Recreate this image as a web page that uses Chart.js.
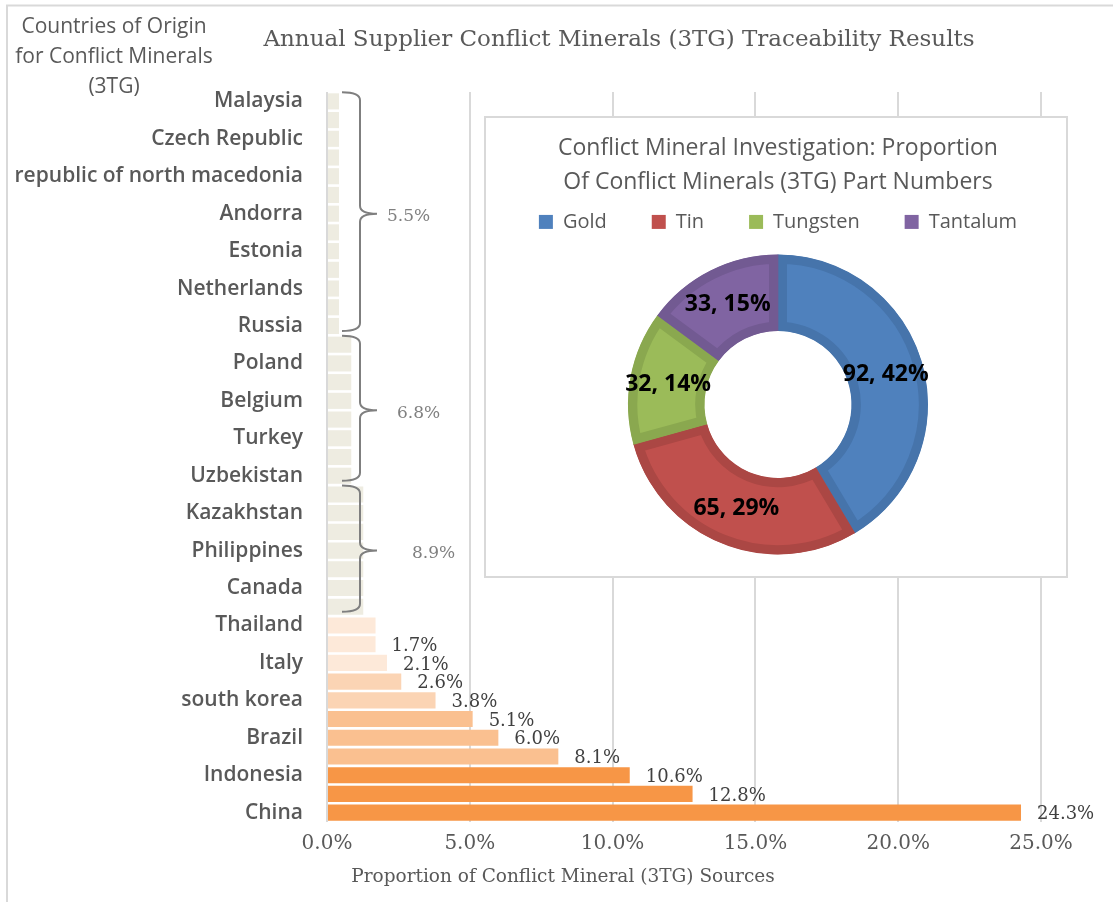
<!DOCTYPE html>
<html>
<head>
<meta charset="utf-8">
<script src="https://cdn.jsdelivr.net/npm/chart.js@4.4.1/dist/chart.umd.min.js"></script>
<style>
  html, body { margin: 0; padding: 0; background: #ffffff; }
  #wrap { position: relative; width: 1113px; height: 902px; overflow: hidden; }
  #bars { position: absolute; left: 0; top: 0; }
  #inset {
    position: absolute; left: 484px; top: 116px; width: 584px; height: 462px;
    box-sizing: border-box; border: 2px solid #D9D9D9; background: #ffffff;
  }
  #donut { display: block; }
</style>
</head>
<body>
<div id="wrap">
  <canvas id="bars" width="1113" height="902"></canvas>
  <div id="inset"><canvas id="donut" width="580" height="458"></canvas></div>
</div>
<script>
// Country rows, top to bottom (every other row carries a name on the axis)
const countries = [
  'Malaysia', '', 'Czech Republic', '', 'republic of north macedonia', '',
  'Andorra', '', 'Estonia', '', 'Netherlands', '', 'Russia', '',
  'Poland', '', 'Belgium', '', 'Turkey', '', 'Uzbekistan', '',
  'Kazakhstan', '', 'Philippines', '', 'Canada', '',
  'Thailand', '', 'Italy', '', 'south korea', '', 'Brazil', '',
  'Indonesia', '', 'China'
];

// Share of 3TG sources per country row, in percent
const sourceShare = [
  0.42, 0.42, 0.42, 0.42, 0.42, 0.42, 0.42, 0.42, 0.42, 0.42, 0.42, 0.42, 0.42,
  0.85, 0.85, 0.85, 0.85, 0.85, 0.85, 0.85, 0.85,
  1.27, 1.27, 1.27, 1.27, 1.27, 1.27, 1.27,
  1.7, 1.7, 2.1, 2.6, 3.8, 5.1, 6.0, 8.1, 10.6, 12.8, 24.3
];

// Small-share rows summarised by a bracket: [first row, last row]
const bracketGroups = [[0, 12], [13, 20], [21, 27]];

// Rows that carry their own value label
const labelledRows = [29, 30, 31, 32, 33, 34, 35, 36, 37, 38];

// Value axis ticks, in percent
const shareTicks = [0, 5, 10, 15, 20, 25];

// Inset: part numbers per mineral
const minerals = ['Gold', 'Tin', 'Tungsten', 'Tantalum'];
const partNumbers = [92, 65, 32, 33];
const partShares = [42, 29, 14, 15];

const GREY_TEXT = '#595959';

function barColor(row, v) {
  if (row < 28) return '#EEECE1';
  if (v <= 2.1) return '#FDE9D9';
  if (v <= 3.8) return '#FBD4B4';
  if (v <= 8.1) return '#FAC090';
  return '#F79646';
}

function drawBrace(ctx, tip, spine, point, top, mid, bot) {
  const r = 8;
  ctx.beginPath();
  ctx.moveTo(tip, top);
  ctx.quadraticCurveTo(spine, top, spine, top + r);
  ctx.lineTo(spine, mid - r);
  ctx.quadraticCurveTo(spine, mid, point, mid);
  ctx.moveTo(point, mid);
  ctx.quadraticCurveTo(spine, mid, spine, mid + r);
  ctx.lineTo(spine, bot - r);
  ctx.quadraticCurveTo(spine, bot, tip, bot);
  ctx.stroke();
}

const bracketLabelGap = [10, 20, 35];

const decor = {
  id: 'decor',
  beforeDraw(chart) {
    const c = chart.ctx;
    c.save();
    c.strokeStyle = '#D9D9D9';
    c.lineWidth = 2;
    c.beginPath();
    c.moveTo(7, 902);
    c.lineTo(7, 5.5);
    c.lineTo(1113, 5.5);
    c.stroke();
    c.restore();
  },
  afterDatasetsDraw(chart) {
    const ctx = chart.ctx;
    const xs = chart.scales.x, ys = chart.scales.y;
    ctx.save();

    // value labels at bar ends
    ctx.font = '18px "DejaVu Serif"';
    ctx.fillStyle = '#404040';
    ctx.textAlign = 'left';
    ctx.textBaseline = 'middle';
    labelledRows.forEach(i => {
      const v = sourceShare[i];
      ctx.fillText(v.toFixed(1) + '%', xs.getPixelForValue(v) + 16, ys.getPixelForValue(i) + 2);
    });

    // brackets with group totals
    ctx.strokeStyle = '#7F7F7F';
    ctx.lineWidth = 2;
    ctx.font = '17px "DejaVu Serif"';
    ctx.fillStyle = '#808080';
    const x0 = xs.getPixelForValue(0);
    bracketGroups.forEach(([a, b], g) => {
      const spine = x0 + 33, tip = spine - 18, point = spine + 17;
      const ya = ys.getPixelForValue(a), yb = ys.getPixelForValue(b);
      const mid = (ya + yb) / 2;
      drawBrace(ctx, tip, spine, point, ya - 9, mid, yb + 5);
      let total = 0;
      for (let i = a; i <= b; i++) total += sourceShare[i];
      ctx.fillText(total.toFixed(1) + '%', point + bracketLabelGap[g], mid + 3);
    });
    ctx.restore();
  },
  afterDraw(chart) {
    const ctx = chart.ctx;
    ctx.save();
    ctx.fillStyle = GREY_TEXT;
    ctx.textAlign = 'center';
    ctx.textBaseline = 'middle';

    ctx.font = '23px "DejaVu Serif"';
    ctx.fillText('Annual Supplier Conflict Minerals (3TG) Traceability Results', 619, 40);

    ctx.font = '21px "Open Sans"';
    ['Countries of Origin', 'for Conflict Minerals', '(3TG)'].forEach((t, i) => {
      ctx.fillText(t, 114, 27 + i * 30);
    });

    ctx.font = '18.5px "DejaVu Serif"';
    ctx.fillText('Proportion of Conflict Mineral (3TG) Sources', 563, 877);
    ctx.restore();
  }
};

new Chart(document.getElementById('bars'), {
  type: 'bar',
  data: {
    labels: countries,
    datasets: [{
      data: sourceShare,
      backgroundColor: c => barColor(c.dataIndex, c.raw),
      borderWidth: 0,
      barPercentage: 0.86,
      categoryPercentage: 1
    }]
  },
  options: {
    indexAxis: 'y',
    responsive: false,
    animation: false,
    devicePixelRatio: 1,
    layout: { padding: { top: 92, right: 72, bottom: 0, left: 0 } },
    plugins: { legend: { display: false }, tooltip: { enabled: false } },
    scales: {
      x: {
        min: shareTicks[0],
        max: shareTicks[shareTicks.length - 1],
        afterBuildTicks: s => { s.ticks = shareTicks.map(v => ({ value: v })); },
        ticks: {
          callback: v => Number(v).toFixed(1) + '%',
          font: { family: 'DejaVu Serif', size: 20 },
          color: GREY_TEXT,
          padding: 10,
          maxRotation: 0
        },
        grid: { color: '#D9D9D9', lineWidth: 2, drawTicks: false },
        border: { display: false },
        afterFit: s => { s.height = 80; }
      },
      y: {
        ticks: {
          autoSkip: false,
          font: { family: 'Open Sans', size: 21, weight: '600' },
          color: GREY_TEXT,
          padding: 16
        },
        grid: { display: false },
        border: { display: false },
        afterFit: s => { s.width = 327; }
      }
    }
  },
  plugins: [decor]
});

const arcLabels = {
  id: 'arcLabels',
  afterDatasetsDraw(chart) {
    const ctx = chart.ctx;
    const meta = chart.getDatasetMeta(0);
    ctx.save();
    ctx.font = '700 23px "Open Sans"';
    ctx.fillStyle = '#000000';
    ctx.textAlign = 'center';
    ctx.textBaseline = 'middle';
    meta.data.forEach((arc, i) => {
      const p = arc.tooltipPosition();
      ctx.fillText(partNumbers[i] + ', ' + partShares[i] + '%', p.x, p.y);
    });
    ctx.restore();
  }
};

new Chart(document.getElementById('donut'), {
  type: 'doughnut',
  data: {
    labels: minerals,
    datasets: [{
      data: partNumbers,
      backgroundColor: ['#4F81BD', '#C0504D', '#9BBB59', '#8064A2'],
      borderColor: ['#4674AB', '#AB4744', '#8AA84F', '#725A92'],
      borderWidth: 9,
      borderAlign: 'inner',
      radius: 150,
      cutout: '49%',
      clip: false
    }]
  },
  options: {
    responsive: false,
    animation: false,
    devicePixelRatio: 1,
    layout: { padding: { left: 4, right: 0, top: 0, bottom: 9 } },
    plugins: {
      title: {
        display: true,
        text: ['Conflict Mineral Investigation: Proportion', 'Of Conflict Minerals (3TG) Part Numbers'],
        font: { family: 'Open Sans', size: 23, weight: 'normal', lineHeight: 1.52 },
        color: GREY_TEXT,
        padding: { top: 12.5, bottom: -33.5 }
      },
      legend: {
        position: 'top',
        labels: {
          boxWidth: 14,
          boxHeight: 14,
          padding: 45,
          font: { family: 'Open Sans', size: 20 },
          color: GREY_TEXT,
          generateLabels: chart =>
            Chart.overrides.doughnut.plugins.legend.labels.generateLabels(chart)
              .map(l => Object.assign(l, { lineWidth: 0, strokeStyle: 'rgba(0,0,0,0)' }))
        }
      },
      tooltip: { enabled: false }
    }
  },
  plugins: [arcLabels]
});
</script>
</body>
</html>
